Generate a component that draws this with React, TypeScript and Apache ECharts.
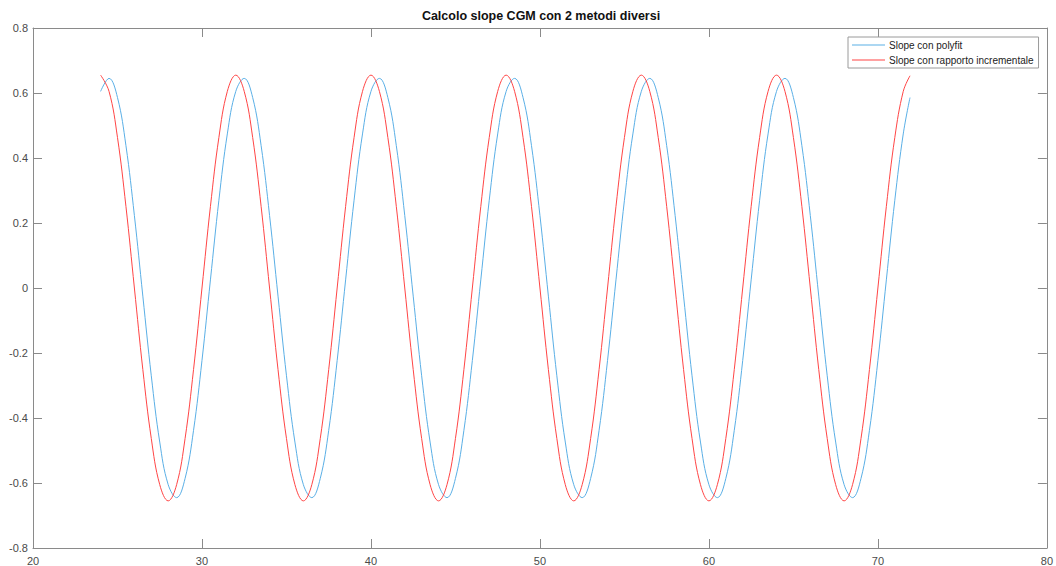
import React, { useEffect, useRef } from "react";
import * as echarts from "echarts";

const titleText = "Calcolo slope CGM con 2 metodi diversi";
const seriesNames = ["Slope con polyfit", "Slope con rapporto incrementale"];

const xs = [
  24, 24.5, 25, 25.5, 26, 26.5, 27, 27.5, 28, 28.5, 29, 29.5, 30, 30.5, 31, 31.5,
  32, 32.5, 33, 33.5, 34, 34.5, 35, 35.5, 36, 36.5, 37, 37.5, 38, 38.5, 39, 39.5,
  40, 40.5, 41, 41.5, 42, 42.5, 43, 43.5, 44, 44.5, 45, 45.5, 46, 46.5, 47, 47.5,
  48, 48.5, 49, 49.5, 50, 50.5, 51, 51.5, 52, 52.5, 53, 53.5, 54, 54.5, 55, 55.5,
  56, 56.5, 57, 57.5, 58, 58.5, 59, 59.5, 60, 60.5, 61, 61.5, 62, 62.5, 63, 63.5,
  64, 64.5, 65, 65.5, 66, 66.5, 67, 67.5, 68, 68.5, 69, 69.5, 70, 70.5, 71, 71.5,
  71.9,
];

const polyfit = [
  0.605, 0.645, 0.586, 0.438, 0.223, -0.025, -0.27, -0.474, -0.605, -0.645, -0.586, -0.438, -0.223, 0.025, 0.27, 0.474,
  0.605, 0.645, 0.586, 0.438, 0.223, -0.025, -0.27, -0.474, -0.605, -0.645, -0.586, -0.438, -0.223, 0.025, 0.27, 0.474,
  0.605, 0.645, 0.586, 0.438, 0.223, -0.025, -0.27, -0.474, -0.605, -0.645, -0.586, -0.438, -0.223, 0.025, 0.27, 0.474,
  0.605, 0.645, 0.586, 0.438, 0.223, -0.025, -0.27, -0.474, -0.605, -0.645, -0.586, -0.438, -0.223, 0.025, 0.27, 0.474,
  0.605, 0.645, 0.586, 0.438, 0.223, -0.025, -0.27, -0.474, -0.605, -0.645, -0.586, -0.438, -0.223, 0.025, 0.27, 0.474,
  0.605, 0.645, 0.586, 0.438, 0.223, -0.025, -0.27, -0.474, -0.605, -0.645, -0.586, -0.438, -0.223, 0.025, 0.27, 0.474,
  0.586,
];

const incrementale = [
  0.655, 0.605, 0.463, 0.251, 0, -0.251, -0.463, -0.605, -0.655, -0.605, -0.463, -0.251, 0, 0.251, 0.463, 0.605,
  0.655, 0.605, 0.463, 0.251, 0, -0.251, -0.463, -0.605, -0.655, -0.605, -0.463, -0.251, 0, 0.251, 0.463, 0.605,
  0.655, 0.605, 0.463, 0.251, 0, -0.251, -0.463, -0.605, -0.655, -0.605, -0.463, -0.251, 0, 0.251, 0.463, 0.605,
  0.655, 0.605, 0.463, 0.251, 0, -0.251, -0.463, -0.605, -0.655, -0.605, -0.463, -0.251, 0, 0.251, 0.463, 0.605,
  0.655, 0.605, 0.463, 0.251, 0, -0.251, -0.463, -0.605, -0.655, -0.605, -0.463, -0.251, 0, 0.251, 0.463, 0.605,
  0.655, 0.605, 0.463, 0.251, 0, -0.251, -0.463, -0.605, -0.655, -0.605, -0.463, -0.251, 0, 0.251, 0.463, 0.605,
  0.653,
];

const xMin = 20, xMax = 80, xStep = 10;
const yMin = -0.8, yMax = 0.8, yStep = 0.2;

const FONT = "Liberation Sans, Arial, Helvetica, sans-serif";
const AXIS_COLOR = "#8a8a8a";
const LABEL_COLOR = "#4a4a4a";

export default function App() {
  const ref = useRef<HTMLDivElement>(null);
  useEffect(() => {
    if (!ref.current) return;
    const chart = echarts.init(ref.current, undefined, { renderer: "svg" });
    const baseAxis = {
      axisLine: { show: true, onZero: false, lineStyle: { color: AXIS_COLOR, width: 1 } },
      axisTick: { show: true, inside: true, length: 9, lineStyle: { color: AXIS_COLOR } },
      splitLine: { show: false },
    };
    const labelStyle = { color: LABEL_COLOR, fontSize: 11, fontFamily: FONT };
    chart.setOption({
      animation: false,
      backgroundColor: "#ffffff",
      grid: { left: 33, right: 7, top: 28, bottom: 18, containLabel: false },
      graphic: [
        {
          type: "text",
          x: 541,
          y: 16,
          style: {
            text: titleText,
            fill: "#111",
            font: `bold 12.5px ${FONT}`,
            textAlign: "center",
            textVerticalAlign: "middle",
          },
        },
      ],
      legend: {
        orient: "vertical",
        left: 848,
        top: 37,
        data: seriesNames,
        icon: "rect",
        itemWidth: 33,
        itemHeight: 1,
        itemGap: 5,
        padding: [3, 5, 3, 4],
        borderColor: "#9a9a9a",
        borderWidth: 1,
        backgroundColor: "#fff",
        textStyle: { fontSize: 10, fontFamily: FONT, color: "#222", padding: [0, 0, 0, -1] },
      },
      xAxis: [
        {
          ...baseAxis,
          type: "value",
          min: xMin,
          max: xMax,
          interval: xStep,
          position: "bottom",
          axisLabel: { ...labelStyle, margin: 7 },
        },
        {
          ...baseAxis,
          type: "value",
          min: xMin,
          max: xMax,
          interval: xStep,
          position: "top",
          axisLabel: { show: false },
        },
      ],
      yAxis: [
        {
          ...baseAxis,
          type: "value",
          min: yMin,
          max: yMax,
          interval: yStep,
          position: "left",
          axisLabel: { ...labelStyle, margin: 5 },
        },
        {
          ...baseAxis,
          type: "value",
          min: yMin,
          max: yMax,
          interval: yStep,
          position: "right",
          axisLabel: { show: false },
        },
      ],
      series: [
        {
          name: seriesNames[0],
          type: "line",
          data: xs.map((x, i) => [x, polyfit[i]]),
          showSymbol: false,
          smooth: 0.4,
          color: "#5aafe6",
          lineStyle: { width: 1, color: "#5aafe6" },
        },
        {
          name: seriesNames[1],
          type: "line",
          data: xs.map((x, i) => [x, incrementale[i]]),
          showSymbol: false,
          smooth: 0.4,
          color: "#ff4545",
          lineStyle: { width: 1, color: "#ff4545" },
        },
      ],
    });
    return () => chart.dispose();
  }, []);
  return (
    <div
      ref={ref}
      style={{ position: "fixed", left: 0, top: 0, width: 1056, height: 566, background: "#fff" }}
    />
  );
}
